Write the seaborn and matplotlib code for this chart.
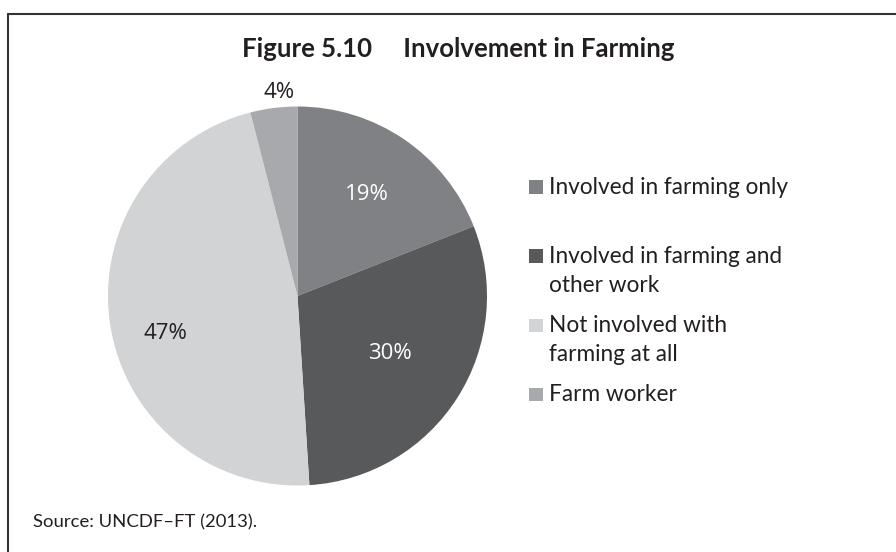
import matplotlib
matplotlib.use("Agg")
import matplotlib.pyplot as plt
import seaborn as sns
import numpy as np
from matplotlib.patches import Rectangle
from matplotlib.lines import Line2D

# ---- data ----
categories = ["Involved in farming only",
              "Involved in farming and\nother work",
              "Not involved with\nfarming at all",
              "Farm worker"]
shares = [19, 30, 47, 4]
pct_labels = ["19%", "30%", "47%", "4%"]
title_text = "Figure 5.10     Involvement in Farming"
source_text = "Source: UNCDF\u2013FT (2013)."

# ---- style ----
colors = ["#808184", "#58595b", "#d1d3d4", "#a7a9ac"]
label_colors = ["white", "white", "#231f20", "#231f20"]
label_radius = [0.65, 0.572, 0.725, 1.077]
label_shift = [0.0, 0.5, 6.8, -2.1]
text_color = "#231f20"

sns.set_theme(style="white")
plt.rcParams['font.family'] = ['Lato', 'DejaVu Sans']

W, H = 896, 552
fig = plt.figure(figsize=(W / 100, H / 100), dpi=100)
fig.patch.set_facecolor("white")

# pie axes
cx, cy, r = 297.5, 296.0, 189.5
ax = fig.add_axes([(cx - r) / W, (H - cy - r) / H, 2 * r / W, 2 * r / H])
wedges, _ = ax.pie(shares, colors=colors, startangle=90, counterclock=False,
                   radius=1, wedgeprops=dict(linewidth=0))
ax.set_xlim(-1, 1)
ax.set_ylim(-1, 1)
ax.set_aspect("equal")
ax.axis("off")

for w, txt, rr, sh, c in zip(wedges, pct_labels, label_radius, label_shift, label_colors):
    ang = np.deg2rad((w.theta1 + w.theta2) / 2 + sh)
    ax.text(rr * np.cos(ang), rr * np.sin(ang), txt, ha="center", va="center",
            color=c, fontsize=16, family=["Open Sans", "DejaVu Sans"])

# title
fig.text(458 / W, 1 - 57 / H, title_text, ha="center", va="baseline",
         fontsize=18.5, fontweight="bold", color=text_color)

# legend (manual)
leg_baselines = [194, 263, 332, 401]
line_gap = 29
sq = 13.5
for lab, col, yb in zip(categories, colors, leg_baselines):
    fig.patches.append(Rectangle((529 / W, 1 - yb / H), sq / W, sq / H,
                                 transform=fig.transFigure, facecolor=col,
                                 edgecolor="none"))
    for i, line in enumerate(lab.split("\n")):
        fig.text(549 / W, 1 - (yb + i * line_gap) / H, line, ha="left",
                 va="baseline", fontsize=16.3, color=text_color)

# source
fig.text(33 / W, 1 - 527 / H, source_text, ha="left", va="baseline",
         fontsize=13.3, color=text_color)

# frame lines (top and left)
fig.add_artist(Line2D([8 / W, 1], [1 - 14 / H, 1 - 14 / H], transform=fig.transFigure,
                      color="#333333", linewidth=1.5))
fig.add_artist(Line2D([8 / W, 8 / W], [1 - 14 / H, 0], transform=fig.transFigure,
                      color="#333333", linewidth=1.5))

fig.savefig("out.png", dpi=100, facecolor="white")
